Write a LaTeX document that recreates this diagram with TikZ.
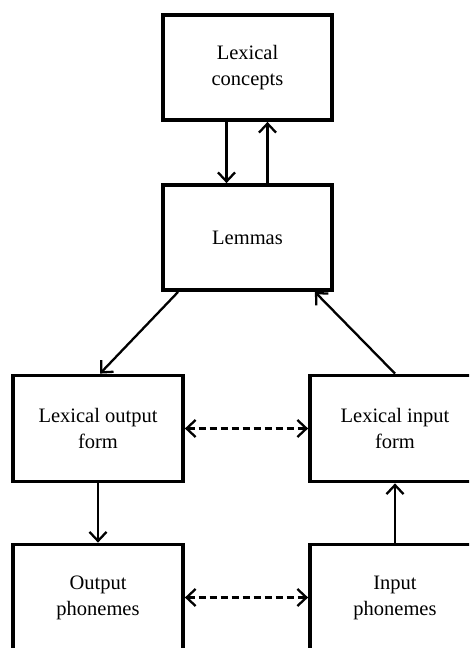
\documentclass[tikz,border=0pt]{standalone}
\usepackage{fontspec}
\setmainfont{Liberation Serif}
\usetikzlibrary{arrows.meta}

\tikzset{
	box/.style={draw, rectangle, line width=3.8pt, minimum width=170pt, minimum height=106pt, align=center, font=\fontsize{20.5}{26}\selectfont},
	link/.style={line width=2.3pt, -{Straight Barb[length=9pt,width=17pt,line width=2.3pt]}},
	dlink/.style={line width=2.4pt, dash pattern=on 7pt off 4pt, {Straight Barb[length=9pt,width=17pt,line width=2.3pt]}-{Straight Barb[length=9pt,width=17pt,line width=2.3pt]}}
}

\begin{document}
\begin{tikzpicture}[x=1pt, y=1pt]
			\useasboundingbox (0,0) rectangle (469,-648);
			\clip (0,0) rectangle (469,-648);
			
			\node[box, minimum width=169pt, minimum height=105pt] (concepts) at (247.5,-67.5) {Lexical\\concepts};
			\node[box, minimum width=169pt, minimum height=105pt] (lemmas) at (247.5,-237.5) {Lemmas};
			\node[box] (outform) at (98,-428.5) {Lexical output\\form};
			\node[box] (inform) at (395,-428.5) {Lexical input\\form};
			\node[box] (outphon) at (98,-597.5) {Output\\phonemes};
			\node[box] (inphon) at (395,-597.5) {Input\\phonemes};
			
			\draw[link] ([xshift=-21pt]concepts.south) to ([xshift=-21pt]lemmas.north);
			\draw[link] ([xshift=20pt]lemmas.north) to ([xshift=20pt]concepts.south);
			\draw[link] ([xshift=17pt]lemmas.south west) to ([xshift=2pt]outform.north);
			\draw[link] (inform.north) to ([xshift=-19pt]lemmas.south east);
			\draw[dlink] (outform.east) to (inform.west);
			\draw[link] (outform.south) to (outphon.north);
			\draw[link] (inphon.north) to (inform.south);
			\draw[dlink] (outphon.east) to (inphon.west);
		\end{tikzpicture}
\end{document}
